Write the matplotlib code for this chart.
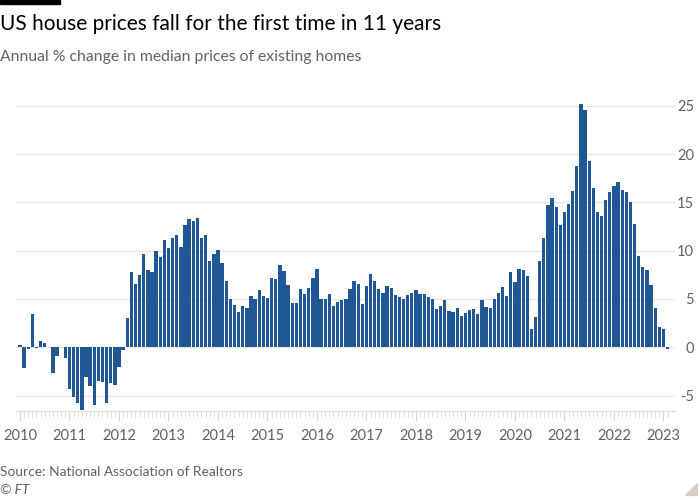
import matplotlib
matplotlib.use("Agg")
import matplotlib.pyplot as plt
from matplotlib.patches import Polygon, Rectangle
import numpy as np

plt.rcParams['font.family'] = ['Lato', 'DejaVu Sans']

# annual % change in median price of existing homes, monthly, Jan 2010 - Feb 2023
y2010 = [0.2, -2.1, -0.2, 3.4, -0.05, 0.6, 0.4, 0.0, -2.65, -0.93, 0.07, -1.14]
y2011 = [-4.28, -5.17, -5.8, -6.5, -3.03, -4.0, -6.0, -3.48, -3.6, -5.76, -3.69, -3.93]
y2012 = [-2.07, -0.31, 3.07, 7.8, 6.5, 7.5, 9.7, 7.97, 7.83, 9.97, 9.34, 11.07]
y2013 = [10.3, 11.28, 11.62, 10.38, 12.62, 13.3, 13.07, 13.38, 11.3, 11.62, 8.93, 9.69]
y2014 = [10.1, 8.76, 6.9, 5.03, 4.34, 3.69, 4.28, 4.1, 5.31, 5.03, 5.97, 5.28]
y2015 = [5.14, 7.14, 7.07, 8.52, 7.93, 6.41, 4.59, 4.59, 6.0, 5.55, 6.14, 7.17]
y2016 = [8.1, 5.03, 5.03, 5.52, 4.31, 4.72, 4.9, 5.0, 6.03, 6.83, 6.52, 4.48]
y2017 = [6.34, 7.55, 6.86, 6.07, 5.66, 6.31, 6.1, 5.41, 5.21, 5.03, 5.41, 5.62]
y2018 = [5.93, 5.48, 5.52, 5.21, 4.97, 3.97, 4.31, 4.93, 3.72, 3.66, 4.07, 3.28]
y2019 = [3.52, 3.83, 3.97, 3.48, 4.93, 4.21, 4.07, 4.97, 5.66, 6.24, 5.34, 7.79]
y2020 = [6.76, 8.1, 8.03, 7.38, 1.86, 3.14, 8.97, 11.31, 14.72, 15.41, 14.52, 12.62]
y2021 = [14.0, 14.86, 16.2, 18.79, 25.2, 24.6, 19.28, 16.45, 14.0, 13.62, 15.24, 16.03]
y2022 = [16.69, 17.1, 16.24, 16.1, 15.07, 12.79, 9.41, 8.34, 8.0, 6.48, 4.03, 2.14]
y2023 = [1.93, -0.17]

values = (y2010 + y2011 + y2012 + y2013 + y2014 + y2015 + y2016 + y2017
          + y2018 + y2019 + y2020 + y2021 + y2022 + y2023)
years = list(range(2010, 2024))
yticks = [-5, 0, 5, 10, 15, 20, 25]

grey = '#66605c'
W, H = 700, 500

fig = plt.figure(figsize=(7, 5), dpi=100)
fig.patch.set_facecolor('white')
ax = fig.add_axes([16 / W, 1 - 411 / H, (675 - 16) / W, (411 - 100) / H])

x = np.arange(len(values))
ax.bar(x, values, width=0.8, color='#1f5894', linewidth=0)

ax.set_xlim(-0.97, 158.8)
ax.set_ylim(-6.6, 25.6)

ax.set_yticks(yticks)
ax.set_yticklabels([str(v) for v in yticks])
ax.yaxis.tick_right()
ax.tick_params(axis='y', length=0, pad=13.7, labelsize=10.5, labelcolor=grey)
for lab in ax.get_yticklabels():
    lab.set_horizontalalignment('right')
ax.grid(axis='y', color='#ebe6e1', linewidth=1)
ax.set_axisbelow(True)

ax.set_xticks([12 * i for i in range(len(years))])
ax.set_xticklabels([str(yr) for yr in years])
ax.set_xticks(x, minor=True)
ax.tick_params(axis='x', which='major', length=7.5, width=0.8, color='#ddd5cd',
               pad=5.5, labelsize=10.5, labelcolor=grey)
ax.tick_params(axis='x', which='minor', length=4, width=0.7, color='#e4ddd6')

for s in ['top', 'left', 'right']:
    ax.spines[s].set_visible(False)
ax.spines['bottom'].set_color('#e6dfd8')
ax.spines['bottom'].set_linewidth(1)

# header / footer
fig.patches.append(Rectangle((0, 1 - 4 / H), 60 / W, 4 / H, transform=fig.transFigure,
                             color='black'))
fig.text(0, 1 - 24 / H, 'US house prices fall for the first time in 11 years',
         fontsize=15, color='black', va='center', ha='left')
fig.text(0, 1 - 57 / H, 'Annual % change in median prices of existing homes',
         fontsize=11.3, color=grey, va='center', ha='left')
fig.text(0, 1 - 472 / H, 'Source: National Association of Realtors',
         fontsize=9.9, color=grey, va='center', ha='left')
fig.text(0, 1 - 490 / H, '© FT', fontsize=9.9, color=grey, style='italic',
         va='center', ha='left')
fig.patches.append(Polygon([(697 / W, 1 - 483 / H), (697 / W, 1 - 495 / H),
                            (685 / W, 1 - 495 / H)], closed=True,
                           transform=fig.transFigure, color='#d8cfc4'))

fig.savefig('out.png', dpi=100)
